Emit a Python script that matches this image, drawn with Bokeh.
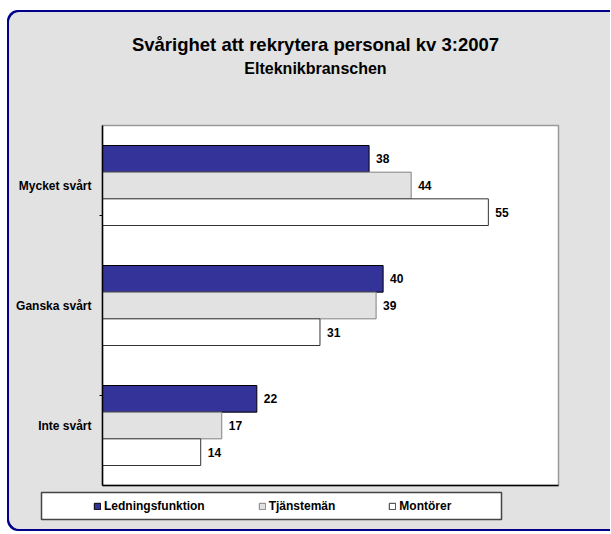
from bokeh.plotting import figure
from bokeh.models import (ColumnDataSource, FactorRange, Range1d,
                          CategoricalAxis, LabelSet, Legend, FixedTicker,
                          LegendItem, Label, BoxAnnotation, Column,
                          InlineStyleSheet)
from bokeh.transform import dodge
from bokeh.core.properties import value
from bokeh.embed import file_html
from bokeh.resources import INLINE

# ---- data ----
categories = ["Mycket svårt", "Ganska svårt", "Inte svårt"]
series_names = ["Ledningsfunktion", "Tjänstemän", "Montörer"]
ledning = [38, 40, 22]
tjansteman = [44, 39, 17]
montorer = [55, 31, 14]
title_text = "Svårighet att rekrytera personal kv 3:2007"
subtitle_text = "Elteknikbranschen"

FONT = "Liberation Sans"
BG = "#E2E2E2"
W = 601

src = ColumnDataSource(dict(
    cat=categories,
    led=ledning, tja=tjansteman, mon=montorer,
    led_s=[str(v) for v in ledning],
    tja_s=[str(v) for v in tjansteman],
    mon_s=[str(v) for v in montorer],
))

# ---- title strip ----
tf = figure(x_range=Range1d(0, W), y_range=Range1d(90, 0),
            width=W, height=90, min_border=0,
            output_backend="svg", toolbar_location=None, title=None,
            x_axis_location=None, y_axis_location=None)
tf.border_fill_color = BG
tf.background_fill_color = BG
tf.outline_line_color = None
tf.grid.visible = False
tf.add_layout(Label(x=306, y=32, text=title_text, text_align="center",
                    text_baseline="alphabetic", text_font=FONT,
                    text_font_size="18.5px", text_font_style="bold",
                    text_color="black"))
tf.add_layout(Label(x=306, y=55.5, text=subtitle_text, text_align="center",
                    text_baseline="alphabetic", text_font=FONT,
                    text_font_size="16px", text_font_style="bold",
                    text_color="black"))

# ---- main chart ----
p = figure(
    y_range=FactorRange(factors=categories[::-1]),
    x_range=Range1d(0, 65),
    frame_width=456, frame_height=360,
    min_border_left=93, min_border_right=52,
    min_border_top=23, min_border_bottom=5,
    output_backend="svg", toolbar_location=None, title=None,
    y_axis_location=None,
)
p.border_fill_color = BG
p.background_fill_color = "white"
p.outline_line_color = "#9A9A9A"
p.outline_line_width = 1.5
p.xgrid.visible = False
p.ygrid.visible = False

# x axis: plain black line only
p.xaxis.ticker = FixedTicker(ticks=[])
p.xaxis.major_tick_line_color = None
p.xaxis.minor_tick_line_color = None
p.xaxis.major_tick_out = 0
p.xaxis.minor_tick_out = 0
p.xaxis.major_label_standoff = 0
p.xaxis.axis_line_color = "black"
p.xaxis.axis_line_width = 1.5

# y axis: tick marks at category boundaries (a shifted factor range) + labels
boundaries = [str(i) for i in range(len(categories) + 1)]
p.extra_y_ranges = {"ticks": FactorRange(factors=boundaries, range_padding=-1,
                                         range_padding_units="absolute")}
tick_axis = CategoricalAxis(
    y_range_name="ticks",
    major_label_text_font_size="0px", major_label_standoff=0,
    major_tick_in=0, major_tick_out=3,
    axis_line_color="black", axis_line_width=1.5,
    major_tick_line_color="black",
)
p.add_layout(tick_axis, "left")
cat_axis = CategoricalAxis(
    axis_line_color=None, major_tick_line_color=None,
    minor_tick_line_color=None,
    major_label_text_font=FONT, major_label_text_font_size="12px",
    major_label_text_font_style="bold", major_label_text_color="black",
    major_label_standoff=2,
)
p.add_layout(cat_axis, "left")

bar_h = 1.0 / 1.5 / 3
specs = [
    ("led", "led_s", bar_h, "#333399", "black"),
    ("tja", "tja_s", 0.0, "#E2E2E2", "#808080"),
    ("mon", "mon_s", -bar_h, "white", "#333333"),
]
for col, scol, off, fill, line in specs:
    p.hbar(y=dodge("cat", off, range=p.y_range), right=col, left=0,
           height=bar_h, source=src, fill_color=fill,
           line_color=line, line_width=1)
    p.add_layout(LabelSet(
        x=col, y=dodge("cat", off, range=p.y_range), text=scol,
        source=src, x_offset=7, text_baseline="middle", text_align="left",
        text_font=value(FONT), text_font_size="12px",
        text_font_style="bold", text_color="black"))

# ---- legend strip ----
lg = figure(
    y_range=FactorRange(factors=categories[::-1]),
    x_range=Range1d(-2, -1),
    width=W, height=39, min_border=0,
    output_backend="svg", toolbar_location=None, title=None,
    x_axis_location=None, y_axis_location=None,
)
lg.border_fill_color = BG
lg.background_fill_color = BG
lg.outline_line_color = None
lg.grid.visible = False

legend_renderers = []
for col, scol, off, fill, line in specs:
    r = lg.hbar(y="cat", right=col, left=0, height=bar_h, source=src,
                fill_color=fill, line_color=line, line_width=1)
    legend_renderers.append(r)

lg.add_layout(BoxAnnotation(left=32, right=492, top=2, bottom=29,
                            left_units="canvas", right_units="canvas",
                            top_units="canvas", bottom_units="canvas",
                            fill_color="white", fill_alpha=1,
                            line_color="#444444", line_width=1.5,
                            line_alpha=1))
legend = Legend(
    items=[LegendItem(label=n, renderers=[r])
           for n, r in zip(series_names, legend_renderers)],
    orientation="horizontal", location=(84, 16),
    padding=6, spacing=53, margin=0,
    glyph_width=8, glyph_height=8, label_standoff=3, label_height=14,
    label_text_font=FONT, label_text_font_size="12px",
    label_text_font_style="bold", label_text_color="black",
    border_line_color=None, background_fill_alpha=0,
)
lg.add_layout(legend, "center")

layout = Column(children=[Column(children=[tf]), p, Column(children=[lg])],
                spacing=0)
layout.stylesheets = [InlineStyleSheet(css=""":host {
  margin-left: 9px;
  margin-top: 12px;
  border: none;
  border-radius: 11px 0px 0px 11px;
  box-shadow: -2px 0px 0px 0px #00008B, 0px -2px 0px 0px #00008B,
              0px 2px 0px 0px #00008B, -2px -2px 0px 0px #00008B,
              -2px 2px 0px 0px #00008B;
  overflow: hidden;
  background-color: #E2E2E2;
}""")]

open("out.html", "w").write(file_html(layout, INLINE))
